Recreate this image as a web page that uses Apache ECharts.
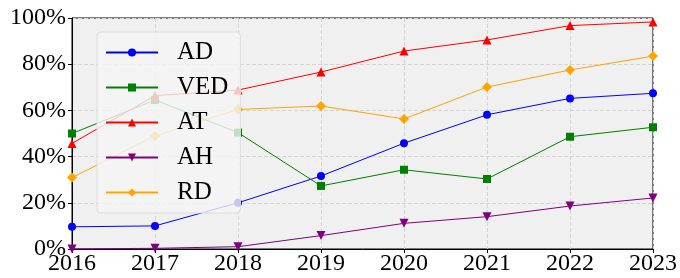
<!DOCTYPE html>
<html>
<head>
<meta charset="utf-8">
<title>chart</title>
<script src="https://cdn.jsdelivr.net/npm/echarts@6/dist/echarts.min.js"></script>
<style>
  body { margin: 0; padding: 0; background: #fff; }
  #main { width: 680px; height: 278px; }
</style>
</head>
<body>
<div id="main"></div>
<script>
var years = ['2016', '2017', '2018', '2019', '2020', '2021', '2022', '2023'];
var adData  = [9.6, 10.0, 20.0, 31.6, 45.8, 58.1, 65.2, 67.4];
var vedData = [50.0, 64.5, 50.4, 27.3, 34.3, 30.3, 48.6, 52.7];
var atData  = [45.7, 66.4, 68.8, 76.6, 85.7, 90.5, 96.7, 98.3];
var ahData  = [0.0, 0.3, 1.0, 5.8, 11.1, 14.0, 18.6, 22.1];
var rdData  = [30.9, 48.9, 60.4, 61.9, 56.3, 70.1, 77.5, 83.5];

var font = 'Liberation Serif';

function makeSeries(name, data, color, symbol, size) {
    return {
        name: name,
        type: 'line',
        data: data,
        symbol: symbol,
        symbolSize: size,
        showAllSymbol: true,
        clip: false,
        lineStyle: { color: color, width: 1 },
        itemStyle: { color: color },
        emphasis: { disabled: true }
    };
}

var chart = echarts.init(document.getElementById('main'));
chart.setOption({
    animation: false,
    grid: {
        left: 72, right: 25, top: 18, bottom: 29,
        show: true,
        backgroundColor: '#f0f0f0',
        borderColor: '#000',
        borderWidth: 1
    },
    legend: {
        orient: 'vertical',
        left: 97,
        top: 32,
        itemWidth: 52,
        itemHeight: 10,
        itemGap: 10,
        padding: [8, 12, 8, 8],
        backgroundColor: 'rgba(245,245,245,0.8)',
        borderColor: '#dddddd',
        borderWidth: 1,
        borderRadius: 4,
        textStyle: { fontFamily: font, fontSize: 25, color: '#000', padding: [0, 0, 0, 14] },
        data: ['AD', 'VED', 'AT', 'AH', 'RD']
    },
    xAxis: {
        type: 'category',
        data: years,
        boundaryGap: false,
        axisLine: { lineStyle: { color: '#000', width: 1 } },
        axisTick: { show: true, length: 4, lineStyle: { color: '#000' } },
        axisLabel: { fontFamily: font, fontSize: 24, color: '#000', margin: 3 },
        splitLine: { show: true, lineStyle: { color: '#d4d4d4', type: 'dashed', width: 1 } }
    },
    yAxis: {
        type: 'value',
        min: 0, max: 100, interval: 20,
        axisLine: { show: true, lineStyle: { color: '#000', width: 1 } },
        axisTick: { show: true, length: 4, lineStyle: { color: '#000' } },
        axisLabel: { fontFamily: font, fontSize: 24, color: '#000', margin: 6, formatter: '{value}%' },
        splitLine: { show: true, lineStyle: { color: '#d4d4d4', type: 'dashed', width: 1 } }
    },
    series: [
        makeSeries('AD', adData, '#0000ff', 'circle', 8),
        makeSeries('VED', vedData, '#008000', 'rect', 8),
        makeSeries('AT', atData, '#ff0000', 'triangle', 9),
        makeSeries('AH', ahData, '#800080', 'path://M0,0 L10,0 L5,10 Z', 9),
        makeSeries('RD', rdData, '#ffa500', 'diamond', 10)
    ]
});
</script>
</body>
</html>
